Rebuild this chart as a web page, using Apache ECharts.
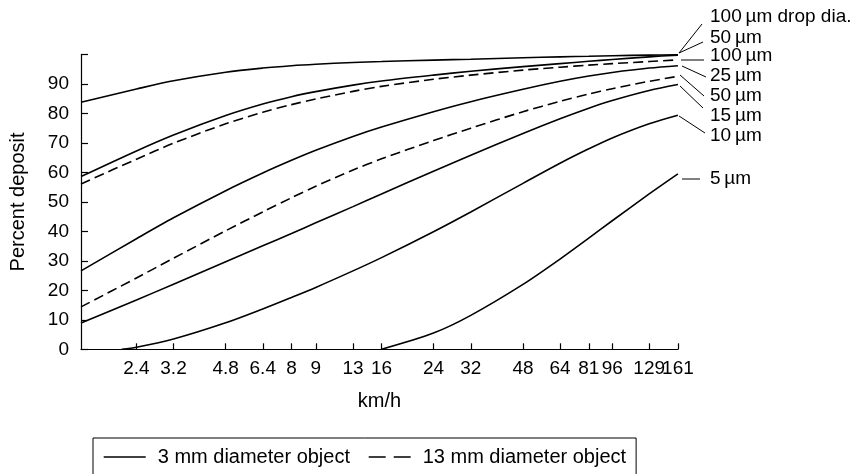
<!DOCTYPE html>
<html>
<head>
<meta charset="utf-8">
<script src="https://cdn.jsdelivr.net/npm/echarts@6/dist/echarts.min.js"></script>
<style>
  html, body { margin: 0; padding: 0; background: #fff; }
  #main { width: 852px; height: 474px; }
</style>
</head>
<body>
<div id="main"></div>
<script>
// 速度 (km/h)，横轴为对数刻度
var speeds = [1.56, 2.4, 3.2, 4.8, 6.4, 8, 9.66, 12.9, 16.1, 24.1, 32.2, 48.3, 64.4, 80.5, 96.6, 128.7, 160.9];
var tickSpeeds = [2.4, 3.2, 4.8, 6.4, 8, 9.66, 12.9, 16.1, 24.1, 32.2, 48.3, 64.4, 80.5, 96.6, 128.7, 160.9];
var tickLabels = ['2.4', '3.2', '4.8', '6.4', '8', '9', '13', '16', '24', '32', '48', '64', '81', '96', '129', '161'];
// 末尾多放一个空标签，避免 ECharts 因重叠把 129 隐藏
var labelSpeeds = tickSpeeds.concat([161]);

// 3 mm 物体 (实线)
var solid100 = [83.8, 88.3, 91.1, 94.0, 95.4, 96.2, 96.7, 97.3, 97.6, 98.1, 98.4, 98.9, 99.2, 99.4, 99.6, 99.8, 99.9];
var solid50 = [58.6, 67.3, 72.7, 79.3, 83.2, 85.7, 87.4, 89.6, 91.0, 93.0, 94.3, 95.9, 96.9, 97.7, 98.3, 99.2, 99.8];
var solid25 = [26.6, 37.5, 44.6, 53.8, 59.8, 64.1, 67.5, 72.2, 75.4, 80.6, 84.0, 88.2, 90.9, 92.7, 93.9, 95.4, 96.2];
var solid15 = [8.9, 16.7, 22.1, 29.7, 35.1, 39.3, 42.9, 48.4, 52.7, 60.4, 65.8, 73.2, 78.2, 81.8, 84.4, 87.8, 89.8];
var solid10 = [null, 0.7, 3.5, 9.0, 13.7, 17.6, 21.0, 26.6, 31.1, 39.9, 46.6, 56.3, 63.1, 68.0, 71.7, 76.5, 79.4];
var solid10Start = 2.14;   // 曲线与 0 相交处
var solid5 = [null, null, null, null, null, null, null, null, 0, 5.5, 11.5, 22.0, 30.6, 37.7, 43.6, 52.7, 59.5];

// 13 mm 物体 (虚线)
var dashed100 = [56.1, 64.5, 69.9, 76.5, 80.4, 83.0, 84.9, 87.5, 89.2, 91.6, 93.0, 94.7, 95.7, 96.4, 96.9, 97.6, 98.2];
var dashed50 = [14.4, 24.2, 30.9, 40.2, 46.6, 51.4, 55.3, 60.8, 64.6, 70.8, 75.0, 80.6, 84.1, 86.6, 88.4, 90.9, 92.6];

var yTicks = [0, 10, 20, 30, 40, 50, 60, 70, 80, 90];

var SMALL = '3 mm diameter object';
var LARGE = '13 mm diameter object';
var FONT = '"Liberation Sans", Arial, Helvetica, sans-serif';

function toPairs(values, start) {
    var out = [];
    if (start != null) out.push([start, 0]);
    for (var i = 0; i < speeds.length; i++) {
        if (values[i] != null) out.push([speeds[i], values[i]]);
    }
    return out;
}

function makeSeries(name, values, dashed, start) {
    return {
        name: name,
        type: 'line',
        data: toPairs(values, start),
        symbol: 'none',
        smooth: 0.3,
        lineStyle: { color: '#000', width: 1.6, type: dashed ? [10, 5] : 'solid' },
        itemStyle: { color: '#000' },
        emphasis: { disabled: true },
        silent: true
    };
}

var series = [
    makeSeries(SMALL, solid100, false),
    makeSeries(SMALL, solid50, false),
    makeSeries(LARGE, dashed100, true),
    makeSeries(SMALL, solid25, false),
    makeSeries(LARGE, dashed50, true),
    makeSeries(SMALL, solid15, false),
    makeSeries(SMALL, solid10, false, solid10Start),
    makeSeries(SMALL, solid5, false)
];

// 右侧的粒径标注和引线
var endLabels = ['100\u2009\u00b5m drop dia.', '50\u2009\u00b5m', '100\u2009\u00b5m', '25\u2009\u00b5m',
                 '50\u2009\u00b5m', '15\u2009\u00b5m', '10\u2009\u00b5m', '5\u2009\u00b5m'];
var labelY = [18, 39, 57, 77, 97, 117, 137, 180];
var leaders = [
    [679, 53, 702, 24], [679, 53, 703, 42], [681, 60, 704, 60], [682, 66, 706, 77],
    [680, 75, 704, 96], [680, 86, 703, 108], [679, 116, 705, 133], [682, 179, 700, 179]
];

var graphic = [];
for (var k = 0; k < endLabels.length; k++) {
    graphic.push({
        type: 'text', left: 710, top: labelY[k] - 11, silent: true,
        style: { text: endLabels[k], fill: '#000', font: '19px ' + FONT }
    });
    graphic.push({
        type: 'line', silent: true,
        shape: { x1: leaders[k][0], y1: leaders[k][1], x2: leaders[k][2], y2: leaders[k][3] },
        style: { stroke: '#000', lineWidth: 1 }
    });
}

var myChart = echarts.init(document.getElementById('main'), null, { renderer: 'canvas' });

var option = {
    backgroundColor: '#fff',
    animation: false,
    textStyle: { fontFamily: FONT, color: '#000' },
    grid: { left: 76, right: 174, top: 54.5, bottom: 124.7, containLabel: false },
    legend: {
        left: 93,
        top: 438,
        padding: [9, 10, 12, 10],
        borderColor: '#000',
        borderWidth: 1,
        itemWidth: 42,
        itemHeight: 14,
        itemGap: 18,
        selectedMode: false,
        itemStyle: { color: 'rgba(0,0,0,0)', borderWidth: 0, opacity: 0 },
        textStyle: { fontSize: 20, color: '#000', fontFamily: FONT, padding: [0, 0, 0, 7] },
        data: [
            { name: SMALL, lineStyle: { type: 'solid', width: 1.4, color: '#000' } },
            { name: LARGE, lineStyle: { type: [17, 8], width: 1.4, color: '#000' } }
        ]
    },
    xAxis: {
        type: 'log',
        logBase: 10,
        min: 1.56,
        max: 161,
        name: 'km/h',
        nameLocation: 'middle',
        nameGap: 42,
        nameTextStyle: { fontSize: 20, color: '#000', fontFamily: FONT },
        axisLine: { lineStyle: { color: '#000', width: 1.2 } },
        axisTick: { inside: true, length: 6, lineStyle: { color: '#000', width: 1.2 }, customValues: tickSpeeds },
        axisLabel: {
            customValues: labelSpeeds,
            showMinLabel: true,
            showMaxLabel: false,
            hideOverlap: false,
            margin: 10,
            fontSize: 19,
            color: '#000',
            fontFamily: FONT,
            formatter: function (v) {
                for (var i = 0; i < tickSpeeds.length; i++) {
                    if (Math.abs(tickSpeeds[i] - v) < 0.01) return tickLabels[i];
                }
                return '';
            }
        },
        splitLine: { show: false },
        minorTick: { show: false }
    },
    yAxis: {
        type: 'value',
        min: 0,
        max: 100,
        interval: 10,
        name: 'Percent deposit',
        nameLocation: 'middle',
        nameGap: 53,
        nameTextStyle: { fontSize: 20, color: '#000', fontFamily: FONT },
        axisLine: { show: true, lineStyle: { color: '#000', width: 1.2 } },
        axisTick: { show: true, inside: true, length: 7, lineStyle: { color: '#000', width: 1.2 } },
        axisLabel: {
            margin: 12,
            fontSize: 19,
            color: '#000',
            fontFamily: FONT,
            formatter: function (v) { return yTicks.indexOf(v) >= 0 ? String(v) : ''; }
        },
        splitLine: { show: false }
    },
    series: series,
    graphic: graphic
};

myChart.setOption(option);
</script>
</body>
</html>
